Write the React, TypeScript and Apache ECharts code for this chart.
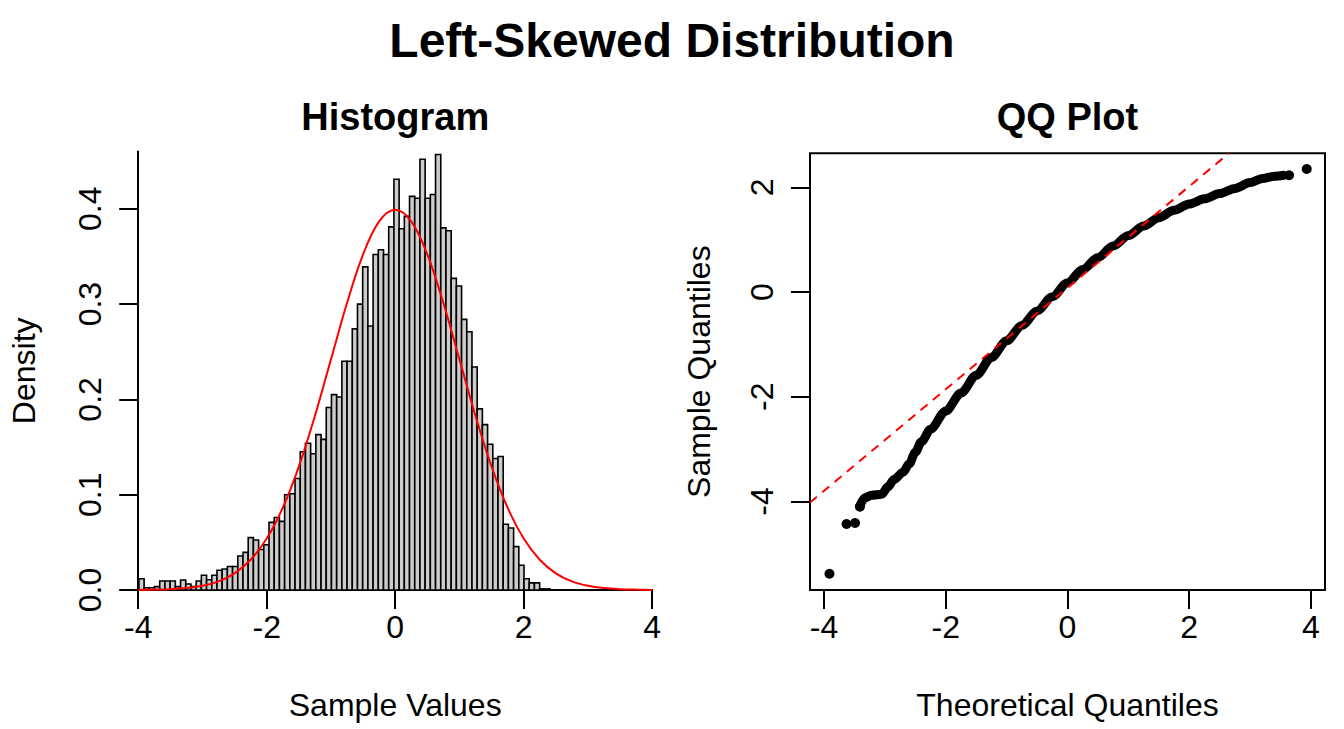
import React, { useEffect, useRef } from "react";
import * as echarts from "echarts";

// ---------- Histogram data ----------
const binStart = -3.989;
const binWidth = 0.081;
const densities = [
  0.0118, 0.0024, 0.0024, 0.0035, 0.0094, 0.0094, 0.0094, 0.0035, 0.0105, 0.0063,
  0.0035, 0.0094, 0.0155, 0.0108, 0.0155, 0.0208, 0.022, 0.0247, 0.0247, 0.0357,
  0.0395, 0.055, 0.0525, 0.0425, 0.0475, 0.071, 0.076, 0.072, 0.1, 0.101,
  0.117, 0.145, 0.154, 0.143, 0.163, 0.158, 0.1915, 0.205, 0.2025, 0.24,
  0.24, 0.274, 0.3, 0.339, 0.277, 0.352, 0.357, 0.352, 0.381, 0.431,
  0.379, 0.392, 0.413, 0.411, 0.452, 0.411, 0.415, 0.457, 0.38, 0.377,
  0.327, 0.319, 0.284, 0.271, 0.234, 0.19, 0.1735, 0.153, 0.138, 0.14,
  0.069, 0.065, 0.0455, 0.026, 0.0118, 0.0075, 0.0075, 0.0012, 0.0012,
];

// Normal density curve
const normalX = [
  -4, -3.75, -3.5, -3.25, -3, -2.75, -2.5, -2.25, -2, -1.75, -1.5, -1.25, -1, -0.75, -0.5, -0.25,
  0, 0.25, 0.5, 0.75, 1, 1.25, 1.5, 1.75, 2, 2.25, 2.5, 2.75, 3, 3.25, 3.5, 3.75, 4,
];
const normalY = [
  0.0001, 0.0004, 0.0009, 0.002, 0.0044, 0.0091, 0.0175, 0.0317, 0.054, 0.0863, 0.1295, 0.1826,
  0.242, 0.3011, 0.3521, 0.3867, 0.3989, 0.3867, 0.3521, 0.3011, 0.242, 0.1826, 0.1295, 0.0863,
  0.054, 0.0317, 0.0175, 0.0091, 0.0044, 0.002, 0.0009, 0.0004, 0.0001,
];

const histXTicks = [-4, -2, 0, 2, 4];
const densityTicks = [0, 0.1, 0.2, 0.3, 0.4];

// ---------- QQ data ----------
const qqBodyX = [
  -3.41, -3.33, -3.22, -3.05, -2.95, -2.85, -2.7, -2.6, -2.5, -2.4, -2.25, -2.0, -1.75, -1.5,
  -1.25, -1.0, -0.75, -0.5, -0.25, 0.0, 0.25, 0.5, 0.75, 1.0, 1.25, 1.5, 1.75, 2.0, 2.25, 2.5,
  2.75, 3.0, 3.2, 3.4, 3.55,
];
const qqBodyY = [
  -4.08, -3.93, -3.88, -3.86, -3.72, -3.58, -3.44, -3.28, -3.06, -2.86, -2.62, -2.27, -1.93,
  -1.59, -1.25, -0.93, -0.64, -0.36, -0.09, 0.18, 0.43, 0.66, 0.88, 1.08, 1.26, 1.42, 1.56, 1.68,
  1.78, 1.88, 1.98, 2.09, 2.17, 2.21, 2.23,
];
const qqDotsX = [-3.91, -3.63, -3.49, -3.41, 3.64, 3.93];
const qqDotsY = [-5.38, -4.43, -4.41, -4.1, 2.23, 2.35];
const qqLineX = [-4.23, 2.65];
const qqLineY = [-4.02, 2.65];
const qqXTicks = [-4, -2, 0, 2, 4];
const qqYTicks = [-4, -2, 0, 2];

const FONT = '"Liberation Sans", Arial, Helvetica, sans-serif';

export default function App() {
  const ref = useRef<HTMLDivElement>(null);

  useEffect(() => {
    if (!ref.current) return;
    const chart = echarts.init(ref.current, undefined, { renderer: "svg" });

    const histData = densities.map((d, i) => [
      binStart + i * binWidth,
      binStart + (i + 1) * binWidth,
      d,
    ]);
    const normalData = normalX.map((x, i) => [x, normalY[i]]);
    const qqBody = qqBodyX.map((x, i) => [x, qqBodyY[i]]);
    const qqDots = qqDotsX.map((x, i) => [x, qqDotsY[i]]);
    const qqLine = qqLineX.map((x, i) => [x, qqLineY[i]]);

    const axisLineStyle = { color: "#000", width: 2 };
    const labelStyle = { color: "#000", fontSize: 32, fontFamily: FONT };

    const option: any = {
      animation: false,
      backgroundColor: "#fff",
      textStyle: { fontFamily: FONT },
      grid: [
        { left: 138.2, width: 514, top: 151.6, height: 438.4, containLabel: false },
        {
          left: 810,
          width: 515,
          top: 153.3,
          height: 436.7,
          show: true,
          borderColor: "#000",
          borderWidth: 2,
          backgroundColor: "transparent",
        },
      ],
      xAxis: [
        {
          type: "value",
          gridIndex: 0,
          min: -4,
          max: 4,
          interval: 2,
          name: "Sample Values",
          nameLocation: "middle",
          nameGap: 99,
          nameTextStyle: { color: "#000", fontSize: 32, fontFamily: FONT },
          axisLine: { show: true, onZero: false, lineStyle: axisLineStyle },
          axisTick: { show: true, length: 19, lineStyle: axisLineStyle, customValues: histXTicks },
          axisLabel: { ...labelStyle, margin: 21, customValues: histXTicks },
          splitLine: { show: false },
        },
        {
          type: "value",
          gridIndex: 1,
          min: -4.23,
          max: 4.23,
          name: "Theoretical Quantiles",
          nameLocation: "middle",
          nameGap: 99,
          nameTextStyle: { color: "#000", fontSize: 32, fontFamily: FONT },
          axisLine: { show: false, onZero: false },
          axisTick: { show: true, length: 19, lineStyle: axisLineStyle, customValues: qqXTicks },
          axisLabel: { ...labelStyle, margin: 21, customValues: qqXTicks },
          splitLine: { show: false },
        },
      ],
      yAxis: [
        {
          type: "value",
          gridIndex: 0,
          min: 0,
          max: 0.46,
          name: "Density",
          nameLocation: "middle",
          nameGap: 98,
          nameTextStyle: { color: "#000", fontSize: 32, fontFamily: FONT },
          axisLine: { show: true, onZero: false, lineStyle: axisLineStyle },
          axisTick: { show: true, length: 19, lineStyle: axisLineStyle, customValues: densityTicks },
          axisLabel: {
            ...labelStyle,
            margin: 32,
            rotate: 90,
            customValues: densityTicks,
            formatter: (v: number) => v.toFixed(1),
          },
          splitLine: { show: false },
        },
        {
          type: "value",
          gridIndex: 1,
          min: -5.69,
          max: 2.65,
          name: "Sample Quantiles",
          nameLocation: "middle",
          nameGap: 95,
          nameTextStyle: { color: "#000", fontSize: 32, fontFamily: FONT },
          axisLine: { show: false, onZero: false },
          axisTick: { show: true, length: 19, lineStyle: axisLineStyle, customValues: qqYTicks },
          axisLabel: { ...labelStyle, margin: 32, rotate: 90, customValues: qqYTicks },
          splitLine: { show: false },
        },
      ],
      graphic: [
        {
          type: "text",
          x: 672,
          y: 40,
          style: {
            text: "Left-Skewed Distribution",
            fill: "#000",
            font: `bold 48px ${FONT}`,
            textAlign: "center",
            textVerticalAlign: "middle",
          },
        },
        {
          type: "text",
          x: 395.2,
          y: 117,
          style: {
            text: "Histogram",
            fill: "#000",
            font: `bold 38px ${FONT}`,
            textAlign: "center",
            textVerticalAlign: "middle",
          },
        },
        {
          type: "text",
          x: 1067.5,
          y: 117,
          style: {
            text: "QQ Plot",
            fill: "#000",
            font: `bold 38px ${FONT}`,
            textAlign: "center",
            textVerticalAlign: "middle",
          },
        },
      ],
      series: [
        {
          type: "custom",
          xAxisIndex: 0,
          yAxisIndex: 0,
          data: histData,
          encode: { x: [0, 1], y: 2 },
          renderItem: (params: any, api: any) => {
            const p0 = api.coord([api.value(0), api.value(2)]);
            const p1 = api.coord([api.value(1), 0]);
            return {
              type: "rect",
              shape: { x: p0[0], y: p0[1], width: p1[0] - p0[0], height: p1[1] - p0[1] },
              style: { fill: "#cccccc", stroke: "#000", lineWidth: 1.6 },
            };
          },
          z: 2,
        },
        {
          type: "line",
          xAxisIndex: 0,
          yAxisIndex: 0,
          data: normalData,
          smooth: 0.35,
          showSymbol: false,
          lineStyle: { color: "#ff0000", width: 2 },
          z: 5,
        },
        {
          type: "line",
          xAxisIndex: 1,
          yAxisIndex: 1,
          data: qqBody,
          smooth: 0.3,
          smoothMonotone: "x",
          showSymbol: false,
          lineStyle: { color: "#000", width: 9, cap: "round", join: "round" },
          z: 3,
        },
        {
          type: "scatter",
          xAxisIndex: 1,
          yAxisIndex: 1,
          data: qqDots,
          symbol: "circle",
          symbolSize: 10,
          itemStyle: { color: "#000", opacity: 1 },
          z: 3,
        },
        {
          type: "line",
          xAxisIndex: 1,
          yAxisIndex: 1,
          data: qqLine,
          showSymbol: false,
          lineStyle: { color: "#ff0000", width: 2, type: [9, 7] },
          z: 4,
        },
      ],
    };

    chart.setOption(option);
    return () => chart.dispose();
  }, []);

  return (
    <div
      ref={ref}
      style={{ position: "absolute", left: 0, top: 0, width: 1344, height: 729, background: "#fff" }}
    />
  );
}
